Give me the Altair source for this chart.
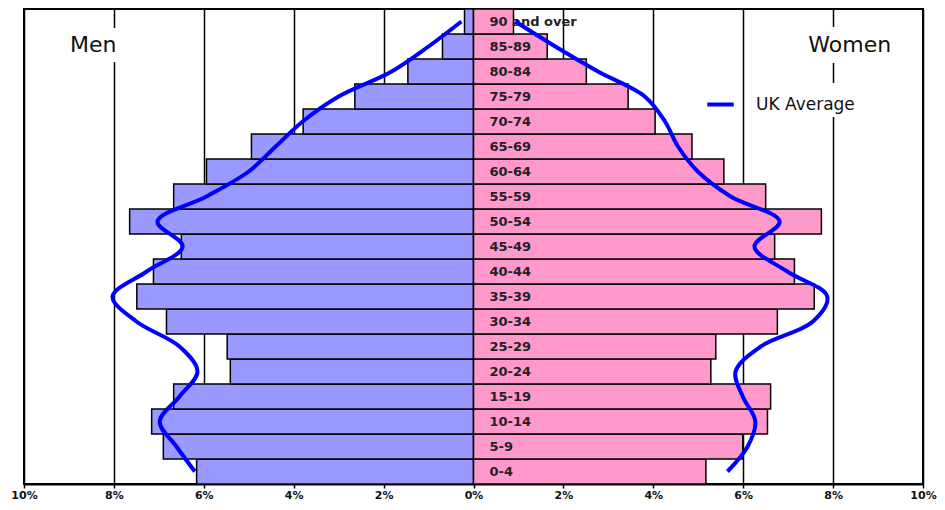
import altair as alt
import pandas as pd

ages = ["0-4", "5-9", "10-14", "15-19", "20-24", "25-29", "30-34", "35-39", "40-44",
        "45-49", "50-54", "55-59", "60-64", "65-69", "70-74", "75-79", "80-84", "85-89",
        "90 and over"]
men = [6.16, 6.90, 7.16, 6.67, 5.41, 5.48, 6.83, 7.49, 7.12, 6.50, 7.65, 6.67, 5.94,
       4.94, 3.79, 2.64, 1.46, 0.69, 0.20]
women = [5.17, 5.99, 6.54, 6.61, 5.28, 5.39, 6.76, 7.58, 7.14, 6.70, 7.74, 6.50, 5.57,
         4.86, 4.04, 3.44, 2.51, 1.64, 0.89]
uk_men = [6.20, 6.61, 6.98, 6.54, 6.14, 6.54, 7.50, 8.03, 7.27, 6.47, 7.03, 5.94, 5.00,
          4.40, 3.80, 3.00, 1.82, 1.00, 0.27]
uk_women = [5.65, 6.10, 6.27, 5.99, 5.83, 6.39, 7.55, 7.87, 6.98, 6.25, 6.81, 5.72, 4.99,
            4.55, 4.26, 3.81, 2.77, 1.82, 0.93]
tick_values = [-10, -8, -6, -4, -2, 0, 2, 4, 6, 8, 10]

bars = pd.DataFrame({
    "age": ages,
    "men": [-v for v in men],
    "women": women,
    "zero": [0] * len(ages),
})
lines = pd.DataFrame({
    "age": ages + ages,
    "value": [-v for v in uk_men] + uk_women,
    "side": ["Men"] * len(ages) + ["Women"] * len(ages),
    "series": ["UK Average"] * (2 * len(ages)),
    "idx": list(range(len(ages))) * 2,
})

W, H = 899, 475

yenc = alt.Y("age:N", sort=ages[::-1], axis=None,
             scale=alt.Scale(paddingInner=0, paddingOuter=0))
xscale = alt.Scale(domain=[-10, 10], nice=False, zero=False)
xaxis = alt.Axis(values=tick_values, labelExpr="abs(datum.value) + '%'", title=None,
                 grid=True, gridColor="black", gridWidth=1.5, domainColor="black",
                 domainWidth=2, tickColor="black", tickSize=4, tickWidth=1.5,
                 labelFont="DejaVu Sans", labelFontWeight="bold", labelFontSize=11,
                 labelColor="#111", labelPadding=1, labelFlush=False)

base = alt.Chart(bars)
men_bars = base.mark_bar(fill="#9999FF", stroke="black", strokeWidth=1.5).encode(
    x=alt.X("men:Q", scale=xscale, axis=xaxis), x2="zero:Q", y=yenc)
women_bars = base.mark_bar(fill="#FF99CC", stroke="black", strokeWidth=1.5).encode(
    x=alt.X("women:Q", scale=xscale), x2="zero:Q", y=yenc)
age_labels = base.mark_text(align="left", baseline="middle", dx=16, font="DejaVu Sans",
                            fontWeight="bold", fontSize=13, color="#222").encode(
    x=alt.X("zero:Q", scale=xscale), y=yenc, text="age:N")

ann = pd.DataFrame({
    "x1": [-9.2, 7.0, 6.3],
    "x2": [-7.7, 9.8, 8.9],
    "y1": [19, 18, 74],
    "y2": [53, 54, 108],
})
masks = alt.Chart(ann).mark_rect(fill="white").encode(
    x=alt.X("x1:Q", scale=xscale), x2="x2:Q",
    y=alt.Y("y1:Q", scale=alt.Scale(domain=[0, H], range=[0, H]), axis=None),
    y2="y2:Q")

labels = pd.DataFrame({"text": ["Men", "Women"], "x": [-8.46, 8.37]})
side_text = alt.Chart(labels).mark_text(font="DejaVu Sans", fontSize=22, color="#111",
                                        baseline="middle", align="center").encode(
    x=alt.X("x:Q", scale=xscale), y=alt.value(36), text="text:N")

uk_line = alt.Chart(lines).mark_line(strokeWidth=4, interpolate="catmull-rom").encode(
    x=alt.X("value:Q", scale=xscale), y=yenc, detail="side:N",
    order=alt.Order("idx:Q"),
    color=alt.Color("series:N",
                    scale=alt.Scale(domain=["UK Average"], range=["#0000FF"]),
                    legend=alt.Legend(title=None, orient="none", legendX=681, legendY=80,
                                      symbolType="stroke", symbolSize=700,
                                      symbolStrokeWidth=4, labelFontSize=17,
                                      labelFont="DejaVu Sans", labelColor="#111",
                                      labelOffset=20, padding=0)))

chart = alt.layer(men_bars, women_bars, masks, side_text, age_labels, uk_line).resolve_scale(
    y="independent").properties(
    width=W, height=H,
    autosize=alt.AutoSizeParams(type="none"),
    padding={"left": 16, "top": 1, "right": 14, "bottom": 18},
).configure_view(stroke="black", strokeWidth=2)

chart.save("out.html", embed_options={"renderer": "svg", "actions": False})
